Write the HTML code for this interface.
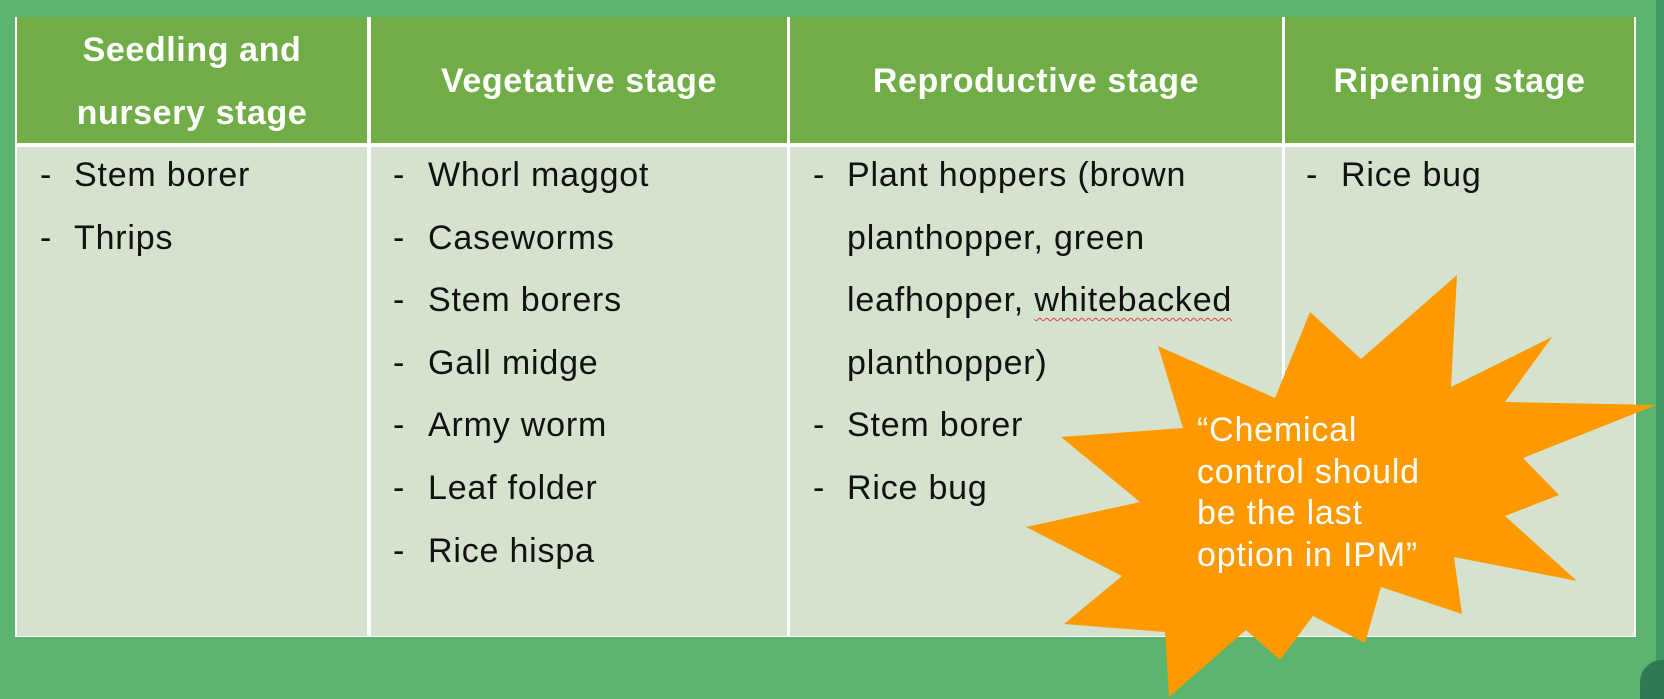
<!DOCTYPE html>
<html><head><meta charset="utf-8"><style>
html,body{margin:0;padding:0;}
body{width:1664px;height:699px;position:relative;overflow:hidden;background:#5bb46e;font-family:"Liberation Sans",sans-serif;}
.abs{position:absolute;}
.hdr{position:absolute;top:17px;height:126px;background:#70ad47;}
.body{position:absolute;top:147px;height:489px;background:#d5e2cd;}
.ht{position:absolute;color:#fff;font-weight:bold;font-size:34px;letter-spacing:0.6px;text-align:center;line-height:63px;white-space:nowrap;}
.t{position:absolute;font-size:34px;letter-spacing:0.8px;color:#111;line-height:40px;white-space:nowrap;}
.st{position:absolute;color:#fff;font-size:34px;letter-spacing:0.8px;line-height:41.7px;white-space:nowrap;}
</style></head><body>
<div class="abs" style="left:1656px;top:0;width:8px;height:699px;background:#3f9a67"></div>
<div class="abs" style="left:1640px;top:660px;width:24px;height:39px;background:#2f7a55;border-top-left-radius:22px;"></div>
<div class="abs" style="left:15px;top:17px;width:1621px;height:620px;background:#fff"></div>
<div class="hdr" style="left:17px;width:350px"></div>
<div class="hdr" style="left:371px;width:416px"></div>
<div class="hdr" style="left:790px;width:492px"></div>
<div class="hdr" style="left:1285px;width:349px"></div>
<div class="body" style="left:17px;width:350px"></div>
<div class="body" style="left:371px;width:416px"></div>
<div class="body" style="left:790px;width:492px"></div>
<div class="body" style="left:1285px;width:349px"></div>

<div class="ht" style="left:17px;width:350px;top:19px">Seedling and</div>
<div class="ht" style="left:17px;width:350px;top:82px">nursery stage</div>
<div class="ht" style="left:371px;width:416px;top:50px">Vegetative stage</div>
<div class="ht" style="left:790px;width:492px;top:50px">Reproductive stage</div>
<div class="ht" style="left:1285px;width:349px;top:50px">Ripening stage</div>

<div class="t" style="left:40px;top:155px">-</div><div class="t" style="left:74px;top:155px">Stem borer</div>
<div class="t" style="left:40px;top:218px">-</div><div class="t" style="left:74px;top:218px">Thrips</div>

<div class="t" style="left:393px;top:155px">-</div><div class="t" style="left:428px;top:155px">Whorl maggot</div>
<div class="t" style="left:393px;top:218px">-</div><div class="t" style="left:428px;top:218px">Caseworms</div>
<div class="t" style="left:393px;top:280px">-</div><div class="t" style="left:428px;top:280px">Stem borers</div>
<div class="t" style="left:393px;top:343px">-</div><div class="t" style="left:428px;top:343px">Gall midge</div>
<div class="t" style="left:393px;top:405px">-</div><div class="t" style="left:428px;top:405px">Army worm</div>
<div class="t" style="left:393px;top:468px">-</div><div class="t" style="left:428px;top:468px">Leaf folder</div>
<div class="t" style="left:393px;top:531px">-</div><div class="t" style="left:428px;top:531px">Rice hispa</div>

<div class="t" style="left:813px;top:155px">-</div><div class="t" style="left:847px;top:155px">Plant hoppers (brown</div>
<div class="t" style="left:847px;top:218px">planthopper, green</div>
<div class="t" style="left:847px;top:280px">leafhopper, <span style="text-decoration:underline wavy #e04040 1px;text-underline-offset:6px">whitebacked</span></div>
<div class="t" style="left:847px;top:343px">planthopper)</div>
<div class="t" style="left:813px;top:405px">-</div><div class="t" style="left:847px;top:405px">Stem borer</div>
<div class="t" style="left:813px;top:468px">-</div><div class="t" style="left:847px;top:468px">Rice bug</div>

<div class="t" style="left:1306px;top:155px">-</div><div class="t" style="left:1341px;top:155px">Rice bug</div>

<svg class="abs" style="left:0;top:0" width="1664" height="699">
<polygon fill="#fe9900" points="1457,275 1451,387 1552,337 1505,402 1656,405 1523,458 1559,495 1505,516 1577,581 1454,557 1462,614 1381,587 1365,643 1313,616 1280,660 1246,630 1169,697 1165,632 1064,624 1122,576 1026,527 1140,502 1061,437 1183,428 1158,346 1275,398 1310,312 1361,359"/>
</svg>
<div class="st" style="left:1197px;top:410px">“Chemical</div>
<div class="st" style="left:1197px;top:452px">control should</div>
<div class="st" style="left:1197px;top:493px">be the last</div>
<div class="st" style="left:1197px;top:535px">option in IPM”</div>
</body></html>
